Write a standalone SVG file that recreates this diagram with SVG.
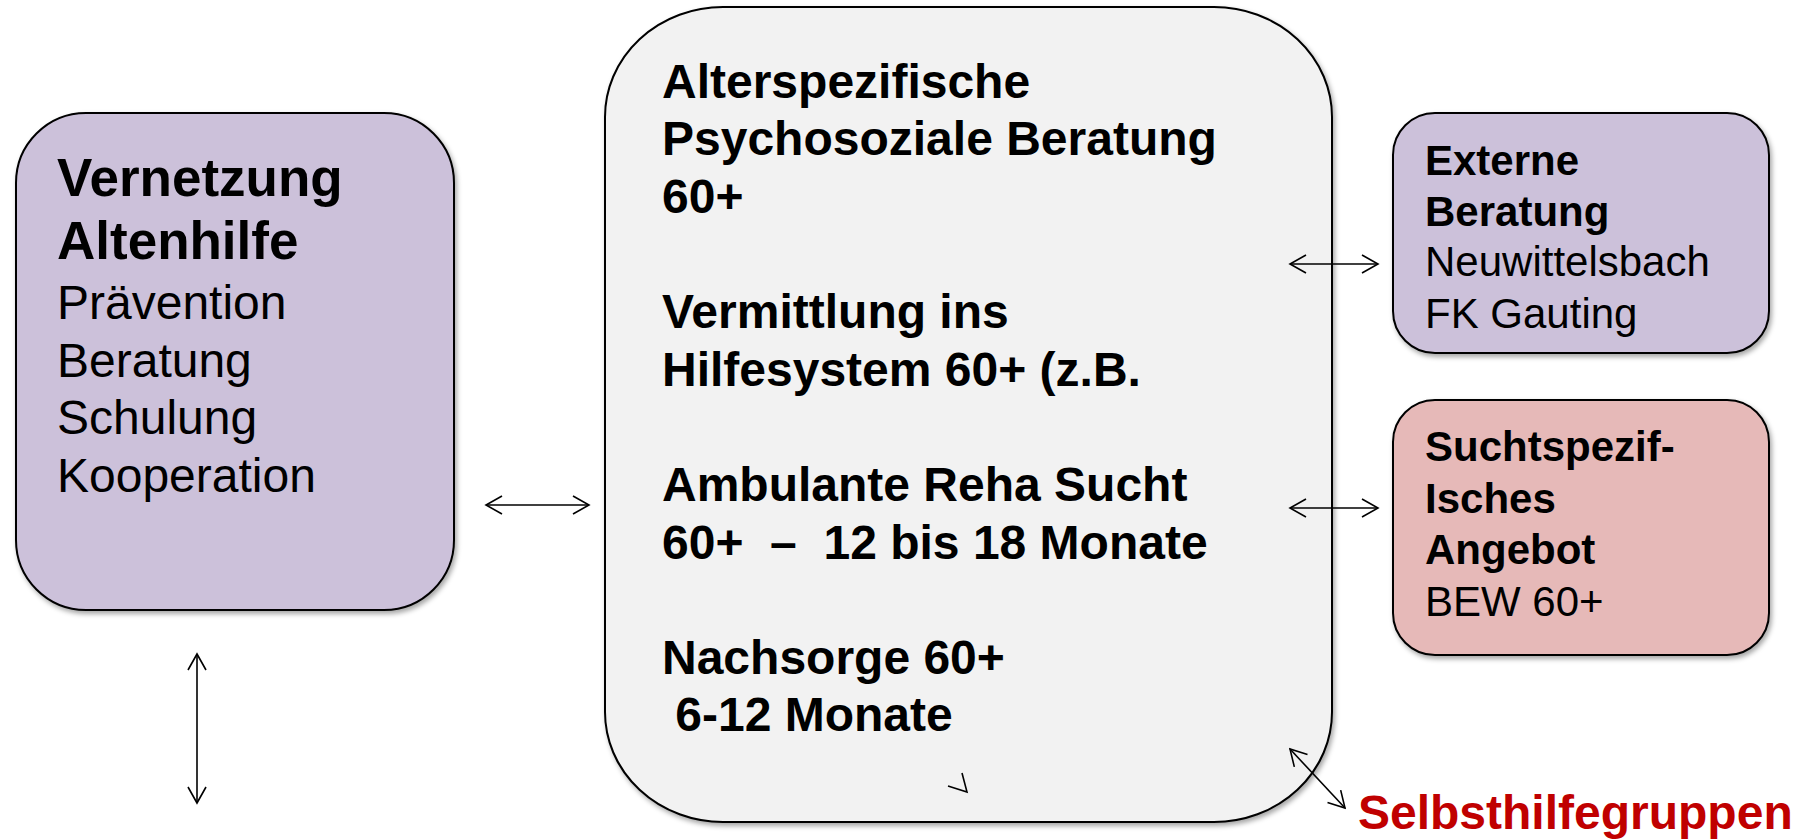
<svg xmlns="http://www.w3.org/2000/svg" width="1805" height="840" viewBox="0 0 1805 840">
<style>
.box{stroke:#000;stroke-width:2;filter:url(#sh)}
.t{font-family:"Liberation Sans",Arial,sans-serif;fill:#000}
.b{font-weight:bold}
.c{stroke:#000;stroke-width:1.6;fill:none}
</style>
<defs>
<filter id="sh" x="-10%" y="-10%" width="120%" height="120%">
<feDropShadow dx="2" dy="3" stdDeviation="2.5" flood-color="#000" flood-opacity="0.35"/>
</filter>
<marker id="ah" viewBox="0 0 20 20" markerWidth="20" markerHeight="20" markerUnits="userSpaceOnUse" refX="18" refY="10" orient="auto-start-reverse">
<path d="M2,1 L18,10 L2,19" fill="none" stroke="#000" stroke-width="1.6"/>
</marker>
</defs>
<rect width="1805" height="840" fill="#fff"/>

<g id="node-vernetzung">
<rect class="box" x="16" y="113" width="438" height="497" rx="70" ry="70" fill="#CCC1DA"/>
<text class="t b" x="57" y="196" font-size="53">Vernetzung</text>
<text class="t b" x="57" y="259" font-size="53">Altenhilfe</text>
<text class="t" x="57" y="319" font-size="48">Prävention</text>
<text class="t" x="57" y="377" font-size="48">Beratung</text>
<text class="t" x="57" y="434" font-size="48">Schulung</text>
<text class="t" x="57" y="492" font-size="48">Kooperation</text>
</g>

<g id="node-center">
<rect class="box" x="605" y="7" width="727" height="815" rx="118" ry="110" fill="#F2F2F2"/>
<g class="t b" font-size="48">
<text x="662" y="98">Alterspezifische</text>
<text x="662" y="155">Psychosoziale Beratung</text>
<text x="662" y="213">60+</text>
<text x="662" y="328">Vermittlung ins</text>
<text x="662" y="386">Hilfesystem 60+ (z.B.</text>
<text x="662" y="501">Ambulante Reha Sucht</text>
<text x="662" y="559" xml:space="preserve">60+  –  12 bis 18 Monate</text>
<text x="662" y="674">Nachsorge 60+</text>
<text x="662" y="731" xml:space="preserve"> 6-12 Monate</text>
</g>
<polyline class="c" points="962,773 967,792 948,786"/>
</g>

<g id="node-extern">
<rect class="box" x="1393" y="113" width="376" height="240" rx="42" ry="42" fill="#CCC1DA"/>
<text class="t b" x="1425" y="175" font-size="42">Externe</text>
<text class="t b" x="1425" y="226" font-size="42">Beratung</text>
<text class="t" x="1425" y="276" font-size="42">Neuwittelsbach</text>
<text class="t" x="1425" y="328" font-size="42">FK Gauting</text>
</g>

<g id="node-sucht">
<rect class="box" x="1393" y="400" width="376" height="255" rx="42" ry="42" fill="#E6B9B8"/>
<text class="t b" x="1425" y="461" font-size="42">Suchtspezif-</text>
<text class="t b" x="1425" y="513" font-size="42">Isches</text>
<text class="t b" x="1425" y="564" font-size="42">Angebot</text>
<text class="t" x="1425" y="616" font-size="42">BEW 60+</text>
</g>

<g id="node-selbsthilfe">
<text class="t b" x="1358" y="829" font-size="48" style="fill:#C00000">Selbsthilfegruppen</text>
</g>

<g id="connectors">
<line class="c" x1="486" y1="505" x2="589" y2="505" marker-start="url(#ah)" marker-end="url(#ah)"/>
<line class="c" x1="197" y1="654" x2="197" y2="803" marker-start="url(#ah)" marker-end="url(#ah)"/>
<line class="c" x1="1290" y1="264" x2="1378" y2="264" marker-start="url(#ah)" marker-end="url(#ah)"/>
<line class="c" x1="1290" y1="508" x2="1378" y2="508" marker-start="url(#ah)" marker-end="url(#ah)"/>
<line class="c" x1="1290" y1="749" x2="1345" y2="808" marker-start="url(#ah)" marker-end="url(#ah)"/>
</g>
</svg>
